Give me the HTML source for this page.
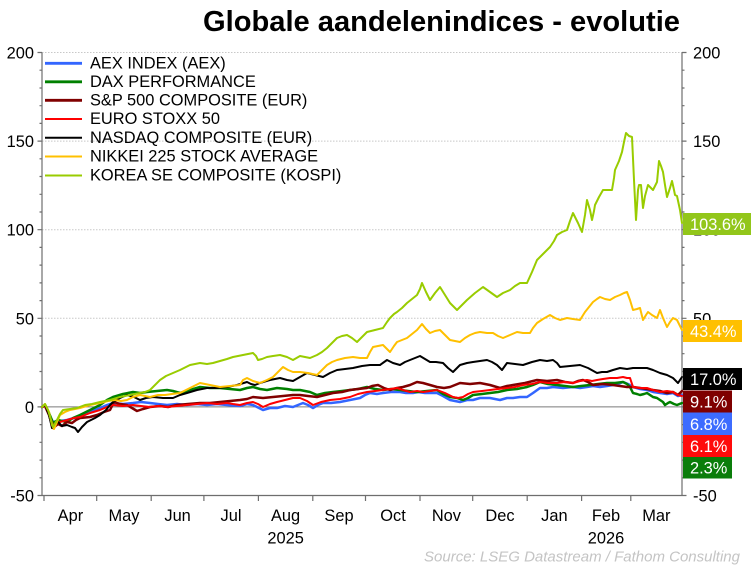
<!DOCTYPE html>
<html><head><meta charset="utf-8"><style>
html,body{margin:0;padding:0;background:#fff;}
svg{display:block;font-family:"Liberation Sans",Arial,sans-serif;}
</style></head><body>
<svg width="752" height="566" viewBox="0 0 752 566" xmlns="http://www.w3.org/2000/svg">
<rect width="752" height="566" fill="#fff"/>
<text x="203" y="31" font-size="29" font-weight="bold" fill="#000" textLength="477" lengthAdjust="spacingAndGlyphs">Globale aandelenindices - evolutie</text>

<!-- gridlines -->
<g stroke="#c8c8c8" stroke-width="1" stroke-dasharray="1.5 1.5">
<line x1="42" y1="52.5" x2="682" y2="52.5"/>
<line x1="42" y1="141.1" x2="682" y2="141.1"/>
<line x1="42" y1="229.7" x2="682" y2="229.7"/>
<line x1="42" y1="318.3" x2="682" y2="318.3"/>
</g>
<line x1="42" y1="406.9" x2="682" y2="406.9" stroke="#7a7a7a" stroke-width="1"/>

<!-- axes -->
<g stroke="#6e6e6e" stroke-width="1.2" fill="none">
<line x1="42" y1="52.5" x2="42" y2="495.5"/>
<line x1="682" y1="52.5" x2="682" y2="495.5"/>
<line x1="42" y1="495.5" x2="682" y2="495.5"/>
<!-- left major -->
<path d="M37.5 52.5H42M37.5 141.1H42M37.5 229.7H42M37.5 318.3H42M37.5 406.9H42M37.5 495.5H42"/>
<!-- left minor -->
<path d="M39.5 70.2H42M39.5 88H42M39.5 105.7H42M39.5 123.4H42M39.5 158.8H42M39.5 176.5H42M39.5 194.3H42M39.5 212H42M39.5 247.4H42M39.5 265.1H42M39.5 282.9H42M39.5 300.6H42M39.5 336H42M39.5 353.7H42M39.5 371.5H42M39.5 389.2H42M39.5 424.6H42M39.5 442.3H42M39.5 460.1H42M39.5 477.8H42"/>
<!-- right major -->
<path d="M682 52.5H686.5M682 141.1H686.5M682 229.7H686.5M682 318.3H686.5M682 406.9H686.5M682 495.5H686.5"/>
<path d="M682 70.2H684.5M682 88H684.5M682 105.7H684.5M682 123.4H684.5M682 158.8H684.5M682 176.5H684.5M682 194.3H684.5M682 212H684.5M682 247.4H684.5M682 265.1H684.5M682 282.9H684.5M682 300.6H684.5M682 336H684.5M682 353.7H684.5M682 371.5H684.5M682 389.2H684.5M682 424.6H684.5M682 442.3H684.5M682 460.1H684.5M682 477.8H684.5"/>
<!-- month ticks -->
<path d="M44 495.5V501M96.7 495.5V501M151.2 495.5V501M203.9 495.5V501M258.4 495.5V501M312.8 495.5V501M365.5 495.5V501M420 495.5V501M472.7 495.5V501M527.2 495.5V501M581.6 495.5V501M630.8 495.5V501"/>
</g>

<!-- left labels -->
<g font-size="16.4" fill="#000" text-anchor="end">
<text x="34" y="58.5">200</text>
<text x="34" y="147.1">150</text>
<text x="34" y="235.7">100</text>
<text x="34" y="324.3">50</text>
<text x="34" y="412.9">0</text>
<text x="34" y="501.5">-50</text>
</g>
<!-- right labels -->
<g font-size="16.4" fill="#000">
<text x="693" y="58.5">200</text>
<text x="693" y="147.1">150</text>
<text x="693" y="235.7">100</text>
<text x="693" y="324.3">50</text>
<text x="693" y="412.9">0</text>
<text x="693" y="501.5">-50</text>
</g>
<!-- month labels -->
<g font-size="16.4" fill="#000" text-anchor="middle">
<text x="70.4" y="521">Apr</text>
<text x="124" y="521">May</text>
<text x="177.6" y="521">Jun</text>
<text x="231" y="521">Jul</text>
<text x="285.6" y="521">Aug</text>
<text x="339" y="521">Sep</text>
<text x="393" y="521">Oct</text>
<text x="446.4" y="521">Nov</text>
<text x="500" y="521">Dec</text>
<text x="554.4" y="521">Jan</text>
<text x="606" y="521">Feb</text>
<text x="656.4" y="521">Mar</text>
<text x="285.6" y="543.5">2025</text>
<text x="606" y="543.5">2026</text>
</g>
<text x="740" y="561.5" font-size="15" font-style="italic" fill="#c4c4c4" text-anchor="end">Source: LSEG Datastream / Fathom Consulting</text>

<!-- series -->
<g fill="none" stroke-linejoin="round" stroke-linecap="round">
<polyline stroke="#3366ff" stroke-width="2.5" points="42,407 45,406 49,414 53,422 60,421 67,420 74,418 80,417 90,412 100,408 107,405 113,403 123,404 133,403 141,402 150,403 158,404 167,405 177,404 187,405 197,404 207,405 217,404 227,405 240,406 247,404 253,405 263,410 270,408 277,408 285,406 293,407 303,403 308,405 313,408 318,405 323,403 331,403 340,402 350,400 360,398 365,395 370,393 377,394 383,393 391,392 400,392 406,393 413,393 418,392 425,393 437,393 443,396 450,400 455,401 460,402 467,400 473,400 480,398 490,398 495,399 500,400 507,398 513,398 520,397 527,397 533,393 540,388 547,388 553,387 563,388 573,387 580,388 587,387 593,386 600,387 607,386 613,385 618,384 623,382 628,384 633,387 640,389 647,390 653,392 660,393 667,394 673,393 678,396 682,395"/>
<polyline stroke="#008000" stroke-width="2.5" points="42,407 45,405 49,413 53,423 58,420 62,421 67,422 73,418 80,415 90,410 100,405 107,400 113,397 123,394 133,392 140,393 147,392 157,391 167,390 173,391 180,393 190,390 200,387 210,388 220,388 230,389 240,390 247,388 253,387 260,389 267,390 277,388 287,389 293,390 300,390 310,392 317,395 325,393 333,392 342,391 350,390 358,389 367,387 375,389 383,390 391,389 400,390 408,391 417,392 427,391 437,390 443,394 450,397 457,398 463,400 468,398 473,395 482,394 490,393 498,392 507,390 517,389 527,387 533,385 540,382 548,384 557,385 565,386 573,387 581,386 590,385 598,384 607,383 615,383 623,382 627,384 630,387 633,393 637,394 640,395 644,394 647,393 650,395 653,397 657,398 660,400 663,402 665,405 668,403 670,402 674,404 677,405 682,403"/>
<polyline stroke="#800000" stroke-width="2.5" points="42,407 45,406 49,415 53,428 58,424 62,426 67,422 72,423 76,420 80,418 90,417 97,415 104,412 110,410 114,402 120,404 127,405 132,408 137,411 143,409 150,407 160,406 168,407 177,405 188,404 200,403 210,403 220,402 230,401 240,400 247,399 253,397 263,398 273,397 283,396 293,395 300,395 308,396 317,397 325,395 333,393 342,392 350,390 358,389 367,388 372,386 378,385 384,388 390,390 397,388 403,387 410,385 417,382 423,383 430,385 437,387 444,388 450,387 455,385 460,383 470,384 480,383 490,385 500,388 507,386 513,385 525,383 537,380 547,381 557,380 565,382 573,383 578,381 583,380 588,382 593,385 603,384 613,385 620,386 627,387 633,387 640,388 647,389 653,390 660,391 667,393 673,392 678,395 682,391"/>
<polyline stroke="#ff0000" stroke-width="2" points="42,407 45,406 49,415 53,425 60,422 67,420 74,418 80,417 90,413 100,410 107,407 113,405 123,406 133,405 141,406 150,407 158,406 167,407 177,406 187,405 197,404 207,403 217,404 227,403 233,404 240,405 247,403 253,402 258,404 263,407 270,404 277,402 285,400 293,398 300,398 307,401 313,405 321,402 330,400 340,399 350,397 358,394 367,392 375,391 383,390 390,389 397,388 403,390 410,392 417,391 423,392 430,391 437,390 445,393 453,397 458,398 463,397 468,394 473,392 482,391 490,390 498,389 507,388 515,387 523,385 532,384 540,382 548,383 557,383 565,382 573,383 580,381 587,380 592,381 597,380 603,379 610,378 617,378 623,377 627,378 630,378 633,387 640,388 647,388 653,390 660,392 667,391 673,392 678,395 682,396"/>
<polyline stroke="#000000" stroke-width="2" points="42,407 45,405 49,415 52,428 55,425 58,422 62,426 67,425 72,427 75,428 78,432 82,427 87,422 95,418 100,415 106,410 110,405 113,402 120,398 127,395 134,397 140,400 146,398 153,397 163,398 173,398 180,395 187,393 197,390 207,388 217,388 227,387 237,385 247,382 251,384 255,385 260,383 270,380 280,378 287,380 293,381 300,377 307,373 315,375 323,377 330,373 337,370 345,369 353,368 362,366 370,365 380,365 387,360 393,363 400,365 405,362 410,360 415,358 420,356 425,359 430,362 436,362 443,363 448,368 453,372 457,368 460,365 467,363 473,362 480,361 487,360 492,362 497,365 502,370 507,363 515,364 523,365 532,362 540,360 547,361 553,360 557,363 560,367 570,366 580,365 588,368 597,373 602,372 607,372 613,370 620,368 627,369 633,368 640,368 647,368 653,370 660,373 667,375 673,378 678,383 682,377"/>
<polyline stroke="#ffc000" stroke-width="2" points="42,407 45,404 49,412 52,425 54,429 57,422 60,415 65,412 70,410 75,409 80,408 90,405 100,403 108,401 115,400 121,401 127,400 133,397 140,395 145,396 150,397 158,395 165,395 172,394 180,393 190,388 200,383 205,384 210,385 220,387 230,386 240,385 243,380 247,378 253,381 260,383 267,380 273,377 278,372 283,367 288,370 293,372 300,372 308,373 317,375 322,370 327,365 332,362 337,360 345,358 353,357 360,358 367,358 370,352 373,347 378,346 383,345 387,349 390,352 394,346 397,342 402,340 407,338 412,334 417,330 422,324 426,329 430,333 435,331 440,330 445,335 450,340 455,341 460,342 465,338 470,335 475,333 480,332 487,333 493,333 498,336 503,338 510,335 517,332 523,333 530,333 533,328 537,323 543,319 550,315 555,318 560,320 567,318 573,319 580,320 585,312 589,307 593,302 597,299 600,297 605,299 610,300 615,297 620,295 624,293 627,292 630,300 633,310 637,309 640,308 643,320 646,315 648,312 652,315 657,318 660,310 663,318 667,327 670,322 673,318 677,320 680,326 682,330"/>
<polyline stroke="#99cc00" stroke-width="2" points="42,407 45,404 48,410 51,420 53,427 57,420 60,414 63,410 70,409 77,408 85,405 92,404 100,402 110,400 120,397 130,395 140,393 145,392 150,390 155,385 160,380 166,376 173,373 180,370 190,365 195,364 200,363 207,364 213,363 220,361 227,359 233,357 243,355 253,353 256,356 258,360 262,359 267,357 273,356 280,355 287,357 293,360 300,356 305,357 310,358 317,355 322,352 327,348 332,343 337,338 342,336 347,335 352,338 357,342 362,337 367,332 375,330 383,328 387,322 390,318 394,314 397,312 402,308 407,303 412,299 417,295 420,289 422,283 426,292 430,300 435,293 440,287 445,295 450,303 454,307 457,310 462,305 467,300 475,293 483,287 490,292 497,297 503,293 510,290 515,286 520,283 527,283 532,272 537,260 543,254 550,247 554,241 557,235 562,232 567,230 570,221 573,213 578,223 582,232 585,215 587,200 590,210 592,220 594,211 595,205 599,197 603,190 608,190 612,190 614,178 615,170 619,161 622,152 624,142 626,133 629,136 632,137 634,180 636,220 638,190 639,185 641,185 643,208 645,196 648,185 651,188 653,190 655,186 657,182 659,161 661,166 663,172 665,185 667,197 670,188 672,181 674,190 675,195 677,196 680,210 682,223"/>
</g>

<!-- legend -->
<g stroke-linecap="butt">
<line x1="45" y1="63.3" x2="82" y2="63.3" stroke="#3366ff" stroke-width="2.8"/>
<line x1="45" y1="81.8" x2="82" y2="81.8" stroke="#008000" stroke-width="2.8"/>
<line x1="45" y1="100.3" x2="82" y2="100.3" stroke="#800000" stroke-width="2.8"/>
<line x1="45" y1="119" x2="82" y2="119" stroke="#ff0000" stroke-width="2"/>
<line x1="45" y1="137.7" x2="82" y2="137.7" stroke="#000000" stroke-width="2"/>
<line x1="45" y1="156.5" x2="82" y2="156.5" stroke="#ffc000" stroke-width="2"/>
<line x1="45" y1="175.5" x2="82" y2="175.5" stroke="#99cc00" stroke-width="2"/>
</g>
<g font-size="16.4" fill="#000">
<text x="90" y="68.5">AEX INDEX (AEX)</text>
<text x="90" y="87">DAX PERFORMANCE</text>
<text x="90" y="105.5">S&amp;P 500 COMPOSITE (EUR)</text>
<text x="90" y="124.2">EURO STOXX 50</text>
<text x="90" y="142.9">NASDAQ COMPOSITE (EUR)</text>
<text x="90" y="161.7">NIKKEI 225 STOCK AVERAGE</text>
<text x="90" y="180.7">KOREA SE COMPOSITE (KOSPI)</text>
</g>

<!-- value boxes -->
<rect x="683" y="213" width="68" height="22" fill="#92c61a"/>
<rect x="683" y="320" width="59" height="22" fill="#ffc000"/>
<rect x="683" y="368" width="59" height="22" fill="#000000"/>
<rect x="683" y="390.5" width="49" height="22" fill="#7f0000"/>
<rect x="683" y="412.5" width="49" height="22.5" fill="#3d6cff"/>
<rect x="683" y="435" width="49" height="22" fill="#ff0a0a"/>
<rect x="683" y="457" width="49" height="21.5" fill="#0a7d0a"/>
<g font-size="16.4" fill="#fff">
<text x="690" y="230">103.6%</text>
<text x="690" y="337">43.4%</text>
<text x="690" y="385">17.0%</text>
<text x="690" y="407.5">9.1%</text>
<text x="690" y="430">6.8%</text>
<text x="690" y="452">6.1%</text>
<text x="690" y="473.5">2.3%</text>
</g>
</svg>
</body></html>
